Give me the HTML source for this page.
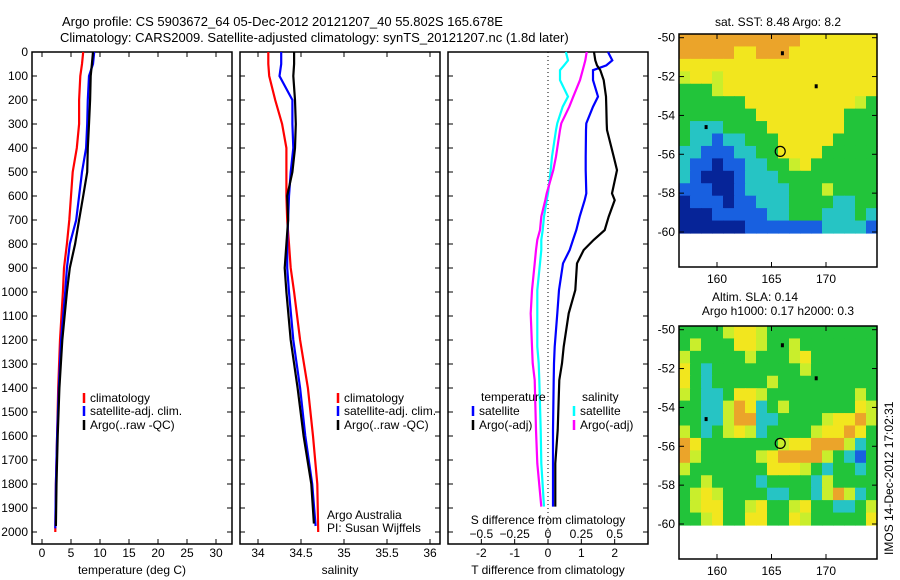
<!DOCTYPE html>
<html><head><meta charset="utf-8"><style>
body{margin:0;background:#fff;}
svg{display:block;font-family:"Liberation Sans",sans-serif;font-size:12px;}
</style></head><body>
<svg id="fig" width="900" height="580" viewBox="0 0 900 580" xmlns="http://www.w3.org/2000/svg">
<text x="62" y="26" font-size="13">Argo profile: CS 5903672_64 05-Dec-2012 20121207_40 55.802S 165.678E</text>
<text x="60" y="42" font-size="13">Climatology: CARS2009. Satellite-adjusted climatology: synTS_20121207.nc (1.8d later)</text>
<text x="778" y="26" text-anchor="middle">sat. SST: 8.48 Argo: 8.2</text>
<text x="755" y="301" text-anchor="middle">Altim. SLA: 0.14</text>
<text x="778" y="315" text-anchor="middle">Argo h1000: 0.17 h2000: 0.3</text>
<text transform="translate(893,555) rotate(-90)" font-size="12">IMOS 14-Dec-2012 17:02:31</text>
<text x="327" y="519">Argo Australia</text>
<text x="327" y="532">PI: Susan Wijffels</text>
</svg>
<script>
// ---------- data ----------
const depths = [0,50,100,200,300,400,500,600,700,800,900,1000,1200,1400,1600,1800,2000];
const tempClim = [7.1,6.9,6.6,6.4,6.4,6.0,5.3,5.0,4.7,4.3,3.8,3.6,3.1,2.8,2.6,2.4,2.3];
const tempSat  = [9.0,8.8,8.1,7.9,7.8,7.6,6.9,6.4,5.9,4.8,4.3,4.0,3.3,2.9,2.6,2.4,2.3];
const tempArgo = [8.8,8.6,8.4,8.3,8.1,7.9,7.8,7.1,6.4,5.7,4.8,4.3,3.5,3.0,2.7,2.5,2.4];
const salClim  = [34.12,34.12,34.13,34.20,34.28,34.33,34.33,34.33,34.34,34.36,34.38,34.42,34.49,34.58,34.64,34.69,34.70];
const salSat   = [34.27,34.27,34.25,34.40,34.40,34.41,34.38,34.36,34.35,34.34,34.34,34.36,34.41,34.49,34.55,34.63,34.67];
const salArgo  = [34.42,34.42,34.41,34.43,34.44,34.43,34.40,34.34,34.35,34.33,34.31,34.33,34.38,34.46,34.53,34.62,34.65];
const diffDepths = [0,35,56,76,117,186,228,297,325,436,492,589,617,686,742,783,825,881,992,1089,1228,1297,1367,1575,1714,1894];
const dTSat  = [1.80,1.93,1.75,1.35,1.35,1.50,1.35,1.15,1.14,1.13,1.13,1.15,1.10,0.95,0.85,0.75,0.65,0.45,0.33,0.28,0.20,0.18,0.17,0.15,0.15,0.15];
const dTArgo = [1.38,1.42,1.47,1.57,1.67,1.74,1.75,1.76,1.77,1.97,2.07,1.92,2.00,1.82,1.70,1.37,1.07,0.87,0.82,0.62,0.47,0.42,0.34,0.29,0.22,0.22];
const dSSat  = [0.134,0.15,0.12,0.09,0.09,0.15,0.11,0.07,0.06,0.03,0.02,0.0,-0.01,-0.03,-0.04,-0.05,-0.05,-0.06,-0.08,-0.08,-0.08,-0.07,-0.065,-0.055,-0.05,-0.03];
const dSArgo = [0.29,0.28,0.27,0.26,0.24,0.19,0.16,0.10,0.09,0.06,0.04,-0.01,-0.02,-0.05,-0.06,-0.08,-0.09,-0.10,-0.12,-0.13,-0.12,-0.115,-0.10,-0.09,-0.08,-0.05];
const depthTicks = [0,100,200,300,400,500,600,700,800,900,1000,1100,1200,1300,1400,1500,1600,1700,1800,1900,2000];
const tempTicks = [0,5,10,15,20,25,30];
const salTicks = [34,34.5,35,35.5,36];
const salTickLabels = ["34","34.5","35","35.5","36"];
const tDiffTicks = [-2,-1,0,1,2];
const sDiffTicks = [-0.5,-0.25,0,0.25,0.5];
const sDiffLabels = ["\u22120.5","\u22120.25","0","0.25","0.5"];
const latTicks = [-50,-52,-54,-56,-58,-60];
const lonTicks = [160,165,170];
const sstRows = [
"OOOOOOOOOOOYYYYYYY","OOOOOYYOOOYYYYYYYY","YYYYYYYYYYYYYYYYYY","LYYLYYYYYYYYYYYYYY",
"GGGLYYYYYYYYYYYYYY","GGGGGGYYYYYYYYYYLG","GGGGGGGYYYYYYYYGGG","GCCCGGGGYYYYYYYGGG",
"GCCBCCGGGYYYYYGGGG","CCBBBCCGGYYYYGGGGG","CBBDBBCCGGLYGGGGGG","CBDDDBCCCGGGGGGGGG",
"BBBDDBCCCCGGGLGGGG","DBBBDBBCCCGGGGCCGG","DDDBBBBBCCGGGCCCGC","DDDDDDBBBBBBBCCCCB"];
const slaRows = [
"GGGGLYYLGGGGGGGGGG","GLGGGYYLGGLGGGGGGG","LGGGGGLGGGLYGGGGGG","YGCGGGGGGGGLGGGGGG",
"YGCGGGGGLGGGGGGGGG","LGCCGYYLGGGGGGGGLG","GGCCLOYCGLGGGGGGYL","GGCCLOOCCGGGGLYYOL",
"LGCGLYLCGGGGLYYOYG","OYGGGGGGGLYYOOOLCG","OLGGGGGLYOOOOLGCBG","LGGGGGGGYYYLGCGGCG",
"GGLGGGGCGGGGCLGGGG","GLYLGGGGCCGGCLOLCG","GLYYGGLYGGLYGGCCGL","GGLYGGYYGGYLGGGGGY"];
const palette = {O:"#eba42a",Y:"#f2e61e",L:"#c9ee2c",G:"#22c43a",C:"#26c4c4",B:"#1860e0",D:"#062498"};
const markLon = [166,169.1,159];
const markLat = [-50.8,-52.5,-54.6];
const argoLon = 165.8, argoLat = -55.85;

// ---------- helpers ----------
const svg = document.getElementById('fig');
const NS = "http://www.w3.org/2000/svg";
function mk(tag, attrs, parent){const e=document.createElementNS(NS,tag);for(const k in attrs)e.setAttribute(k,attrs[k]);(parent||svg).appendChild(e);return e;}
const Y0=52, YS=0.24;
function yD(d){return Y0+d*YS;}
function lin(d0,d1,p0,p1){return v=>p0+(v-d0)*(p1-p0)/(d1-d0);}

function panel(name,x0,x1){
  const r=mk('rect',{x:x0,y:52,width:x1-x0,height:492,fill:'none',stroke:'#000','stroke-width':1.5});
  
  
  depthTicks.forEach(d=>{
    mk('line',{x1:x0,x2:x0+5,y1:yD(d),y2:yD(d),stroke:'#000'});
    mk('line',{x1:x1-5,x2:x1,y1:yD(d),y2:yD(d),stroke:'#000'});
  });
}
function xTicks(name,ticks,labels,sx,y,top){
  ticks.forEach((t,i)=>{
    const x=sx(t);
    mk('line',{x1:x,x2:x,y1:544,y2:539,stroke:'#000'});
    if(top) mk('line',{x1:x,x2:x,y1:52,y2:57,stroke:'#000'});
    const tx=mk('text',{x:x,y:y,'text-anchor':'middle'});
    tx.textContent=labels[i];
    
    
  });
}
function line(name,xs,ds,sx,color){
  const pts=xs.map((v,i)=>sx(v).toFixed(1)+','+yD(ds[i]).toFixed(1)).join(' ');
  const p=mk('polyline',{points:pts,fill:'none',stroke:color,'stroke-width':2.2,'stroke-linejoin':'miter'});
  
  
}
function legend(name,x,y,color,label){
  mk('line',{x1:x,x2:x,y1:y-9,y2:y+1,stroke:color,'stroke-width':2.5});
  const t=mk('text',{x:x+6,y:y});t.textContent=label;
  
  
}
function label(name,x,y,txt,anchor){
  const t=mk('text',{x:x,y:y,'text-anchor':anchor||'middle'});t.textContent=txt;
  
  
}

depthTicks.forEach(d=>{
  const t=mk('text',{x:28,y:yD(d)+4,'text-anchor':'end'});t.textContent=d;
  
  
});

// ---------- temperature panel ----------
const sxT=lin(0,30,42,216);
panel('temperature-panel',32,232);
xTicks('temperature',tempTicks,tempTicks.map(String),sxT,557,true);
line('temperature-climatology',tempClim,depths,sxT,'#f00');
line('temperature-satellite-adj',tempSat,depths.map(d=>Math.min(d,1985)),sxT,'#00f');
line('temperature-argo',tempArgo,depths.map(d=>Math.min(d,1975)),sxT,'#000');
label('temperature-axis-title',132,574,'temperature (deg C)');
legend('legend-climatology',84,402,'#f00','climatology');
legend('legend-satellite-adj',84,415,'#00f','satellite-adj. clim.');
legend('legend-argo',84,429,'#000','Argo(..raw -QC)');

// ---------- salinity panel ----------
const sxS=lin(34,36,258,430);
panel('salinity-panel',240,440);
xTicks('salinity',salTicks,salTickLabels,sxS,557,true);
line('salinity-climatology',salClim,depths.map(d=>Math.min(d,2048)),sxS,'#f00');
line('salinity-satellite-adj',salSat,depths.map(d=>Math.min(d,1975)),sxS,'#00f');
line('salinity-argo',salArgo,depths.map(d=>Math.min(d,1965)),sxS,'#000');
label('salinity-axis-title',340,574,'salinity');
legend('legend-sal-climatology',338,402,'#f00','climatology');
legend('legend-sal-satellite-adj',338,415,'#00f','satellite-adj. clim.');
legend('legend-sal-argo',338,429,'#000','Argo(..raw -QC)');

// ---------- difference panel ----------
const sxD=lin(-3,3,448,648);
const sxDS=lin(-0.75,0.75,448,648);
panel('difference-panel',448,648);
mk('line',{x1:sxD(0),x2:sxD(0),y1:52,y2:544,stroke:'#000','stroke-dasharray':'1,3'});
xTicks('t-difference',tDiffTicks,tDiffTicks.map(String),sxD,557,false);
sDiffTicks.forEach((t,i)=>{
  const tx=mk('text',{x:sxDS(t),y:538,'text-anchor':'middle'});tx.textContent=sDiffLabels[i];
  
  
});
label('s-difference-axis-title',548,524,'S difference from climatology');
label('t-difference-axis-title',548,574,'T difference from climatology');
line('s-diff-satellite',dSSat,diffDepths,sxDS,'#0ff');
line('s-diff-argo',dSArgo,diffDepths,sxDS,'#f0f');
line('t-diff-satellite',dTSat,diffDepths,sxD,'#00f');
line('t-diff-argo',dTArgo,diffDepths,sxD,'#000');
label('legend-temperature-header',481,401,'temperature','start');
legend('legend-t-satellite',473,415,'#00f','satellite');
legend('legend-t-argo',473,429,'#000','Argo(-adj)');
label('legend-salinity-header',582,401,'salinity','start');
legend('legend-s-satellite',574,415,'#0ff','satellite');
legend('legend-s-argo',574,429,'#f0f','Argo(-adj)');

// ---------- maps ----------
function map(name,top,rows){
  const lonX=lin(160,170,717,826);
  const latY=lin(-50,-60,top+3.7,top+198);
  const cw=198/18, ch=199/16;
  rows.forEach((row,r)=>{
    for(let c=0;c<row.length;c++){
      const cell=mk('rect',{x:679+c*cw,y:top+r*ch,width:cw+0.6,height:ch+0.6,fill:palette[row[c]]});
      
      
    }
  });
  const f=mk('rect',{x:679,y:top,width:198,height:233,fill:'none',stroke:'#000','stroke-width':1.5});
  
  
  latTicks.forEach(l=>{
    const y=latY(l);
    mk('line',{x1:679,x2:684,y1:y,y2:y,stroke:'#000'});
    mk('line',{x1:872,x2:877,y1:y,y2:y,stroke:'#000'});
    const t=mk('text',{x:675,y:y+4,'text-anchor':'end'});t.textContent=l;
    
    
  });
  lonTicks.forEach(l=>{
    const x=lonX(l);
    mk('line',{x1:x,x2:x,y1:top+233,y2:top+228,stroke:'#000'});
    mk('line',{x1:x,x2:x,y1:top,y2:top+5,stroke:'#000'});
    const t=mk('text',{x:x,y:top+249,'text-anchor':'middle'});t.textContent=l;
    
    
  });
  markLon.forEach((lo,i)=>{
    const m=mk('rect',{x:lonX(lo)-1.5,y:latY(markLat[i])-2,width:3,height:4,fill:'#000'});
    
    
  });
  const c=mk('circle',{cx:lonX(argoLon),cy:latY(argoLat),r:5,fill:'none',stroke:'#000','stroke-width':1.2});
  
  
}
map('sst-map',34,sstRows);
map('sla-map',326,slaRows);
</script>
</body></html>
